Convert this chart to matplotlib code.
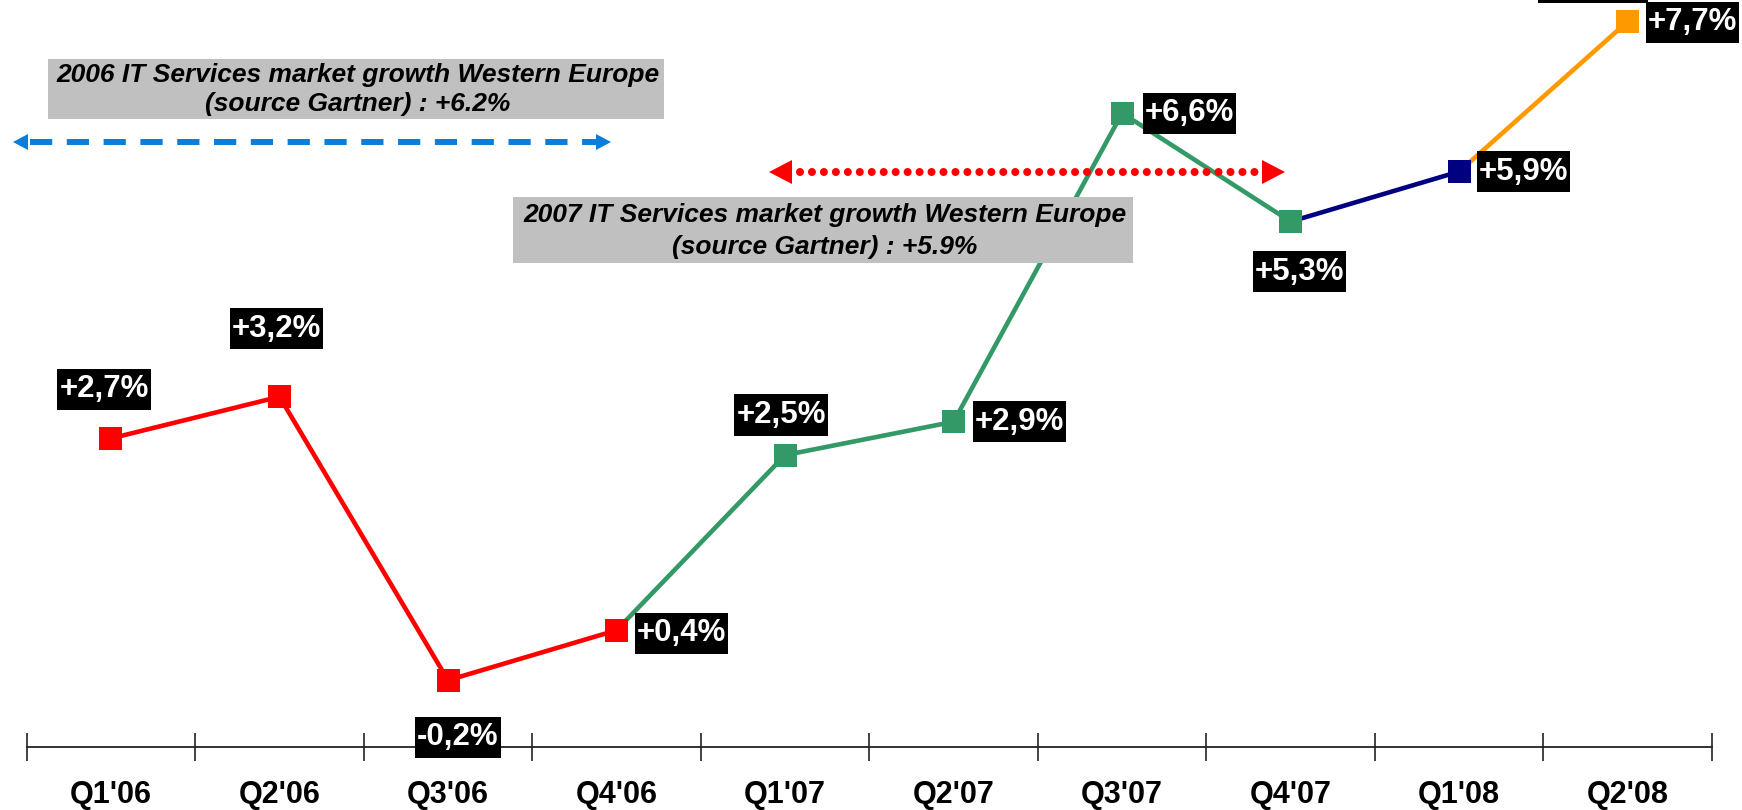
import numpy as np
import matplotlib
matplotlib.use('Agg')
import matplotlib.pyplot as plt
from matplotlib.patches import Rectangle, Polygon

plt.rcParams['font.family'] = ['Liberation Sans', 'DejaVu Sans']
plt.rcParams['lines.scale_dashes'] = False

# ---- data ----
quarters = ["Q1'06", "Q2'06", "Q3'06", "Q4'06", "Q1'07",
            "Q2'07", "Q3'07", "Q4'07", "Q1'08", "Q2'08"]
growth = [2.7, 3.2, -0.2, 0.4, 2.5, 2.9, 6.6, 5.3, 5.9, 7.7]
labels = ["+2,7%", "+3,2%", "-0,2%", "+0,4%", "+2,5%",
          "+2,9%", "+6,6%", "+5,3%", "+5,9%", "+7,7%"]
RED, GREEN, NAVY, ORANGE = '#FF0000', '#339966', '#000080', '#FF9900'
point_colors = [RED, RED, RED, RED, GREEN, GREEN, GREEN, GREEN, NAVY, ORANGE]
segments = [(0, 3, RED), (3, 7, GREEN), (7, 8, NAVY), (8, 9, ORANGE)]
# label offsets (pixels) relative to the marker
label_offsets = [(-7, 49), (-3, 68), (10, -57), (65, -3), (-4, 40),
                 (66, 0), (67, 0), (9, -50), (64, 0), (65, -1)]

W, H = 1742, 810
fig = plt.figure(figsize=(W / 100, H / 100), dpi=100)
ax = fig.add_axes([26.7 / W, 63 / H, (1712 - 26.7) / W, 747 / H])
ax.set_xlim(-0.5, len(quarters) - 0.5)
ax.set_ylim(-1, 7.957)

x = np.arange(len(quarters))
g = np.array(growth)
for a, b, c in segments:
    ax.plot(x[a:b + 1], g[a:b + 1], color=c, lw=3.3, zorder=2)
ax.scatter(x, g, marker='s', s=275, c=point_colors, zorder=3, linewidths=0)

for xi, yi, lbl, (dx, dy) in zip(x, g, labels, label_offsets):
    ax.annotate(lbl, (xi, yi), xytext=(dx, dy), textcoords='offset pixels',
                ha='center', va='center', color='white', fontweight='bold',
                fontsize=22.5, zorder=6, annotation_clip=False,
                bbox=dict(boxstyle='square,pad=0.06', fc='black', ec='none',
                          mutation_aspect=3))

for s in ['top', 'left', 'right']:
    ax.spines[s].set_visible(False)
ax.spines['bottom'].set_color('#222222')
ax.spines['bottom'].set_linewidth(1.3)
ax.set_yticks([])
ax.set_xticks(x)
ax.set_xticklabels(quarters, fontweight='bold', fontsize=22)
ax.set_xticks(np.arange(-0.5, len(quarters), 1), minor=True)
ax.tick_params(axis='x', which='major', length=0, pad=24)
ax.tick_params(axis='x', which='minor', direction='inout', length=20,
               width=1.2, color='#222222')
ax.patch.set_alpha(0)

# ---- overlay annotations (pixel coordinates) ----
ov = fig.add_axes([0, 0, 1, 1], zorder=5)
ov.set_xlim(0, W)
ov.set_ylim(H, 0)
ov.axis('off')
ov.patch.set_alpha(0)

# partial black box at top edge
ov.add_patch(Rectangle((1538, 0), 110, 3, fc='black', ec='none'))

# gray boxes
ov.add_patch(Rectangle((48, 59), 616, 60, fc='#C0C0C0', ec='none'))
ov.text(358, 75, "2006 IT Services market growth Western Europe", ha='center',
        va='center', fontsize=19, fontweight='bold', fontstyle='italic')
ov.text(358, 104, "(source Gartner) : +6.2%", ha='center', va='center',
        fontsize=19, fontweight='bold', fontstyle='italic')

ov.add_patch(Rectangle((513, 197), 620, 66, fc='#C0C0C0', ec='none'))
ov.text(825, 215, "2007 IT Services market growth Western Europe", ha='center',
        va='center', fontsize=19, fontweight='bold', fontstyle='italic')
ov.text(825, 247, "(source Gartner) : +5.9%", ha='center', va='center',
        fontsize=19, fontweight='bold', fontstyle='italic')

# blue dashed double arrow
BLUE = '#0B7DDA'
ov.plot([30, 596], [142, 142], color=BLUE, lw=4.3, dashes=(16, 10.5),
        solid_capstyle='butt', dash_capstyle='butt')
ov.add_patch(Polygon([(13, 142), (28, 134), (28, 150)], closed=True, fc=BLUE, ec='none'))
ov.add_patch(Polygon([(611, 142), (596, 134), (596, 150)], closed=True, fc=BLUE, ec='none'))

# red dotted double arrow
ov.plot([800, 1262], [172, 172], color=RED, lw=5.8, dashes=(0.01, 8.6),
        dash_capstyle='round')
ov.add_patch(Polygon([(769, 172), (792, 160), (792, 184)], closed=True, fc=RED, ec='none'))
ov.add_patch(Polygon([(1285, 172), (1262, 160), (1262, 184)], closed=True, fc=RED, ec='none'))

fig.savefig('out.png', dpi=100)
